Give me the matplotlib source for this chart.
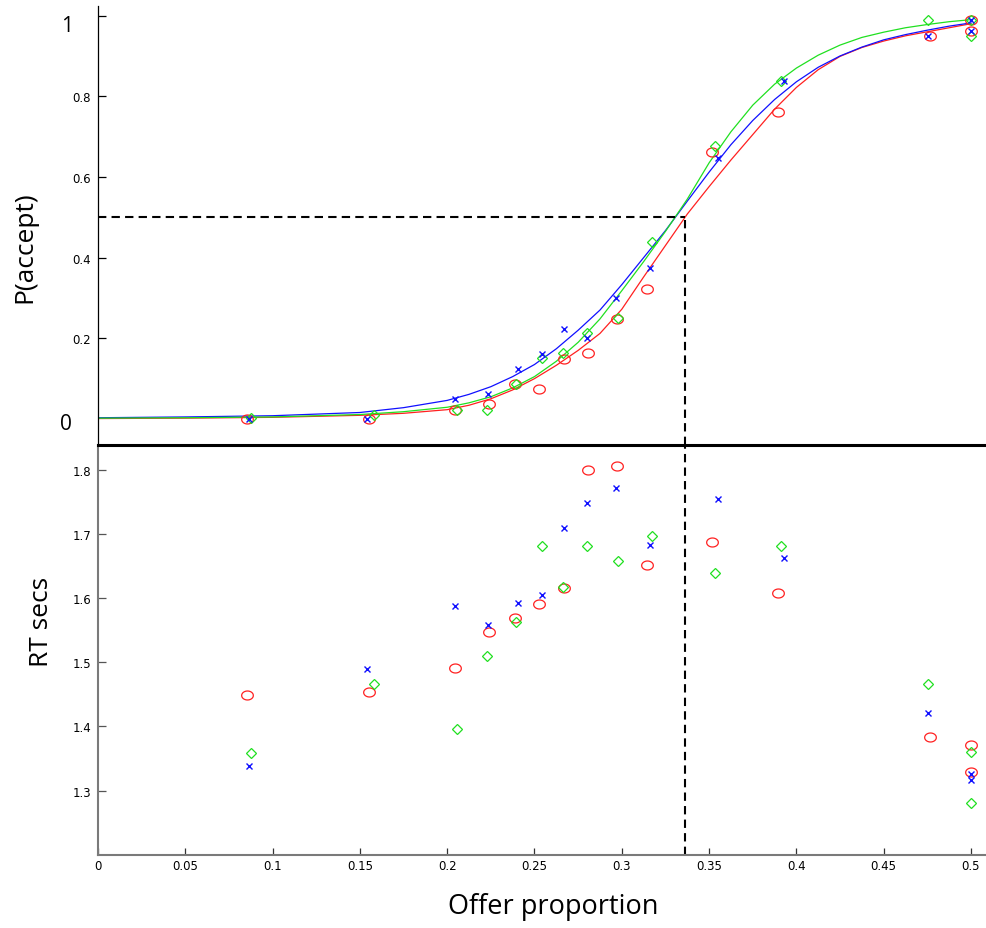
import numpy as np
import matplotlib
matplotlib.use("Agg")
import matplotlib.pyplot as plt

# offers (proportion of the pie) for each condition
x_red = [0.0855, 0.155, 0.2045, 0.224, 0.2386, 0.2524, 0.2667, 0.2805, 0.2973, 0.3146, 0.3515, 0.3893, 0.4763, 0.5, 0.5]
x_blue = [0.0863, 0.1543, 0.2043, 0.2232, 0.2404, 0.2541, 0.2667, 0.2803, 0.2965, 0.316, 0.3551, 0.3927, 0.4752, 0.5, 0.5]
x_green = [0.0876, 0.1579, 0.2056, 0.223, 0.2396, 0.2543, 0.2661, 0.2803, 0.2977, 0.3173, 0.3536, 0.3912, 0.4752, 0.5, 0.5]

# P(accept)
p_red = [0.0, 0.0, 0.023, 0.036, 0.086, 0.074, 0.149, 0.163, 0.248, 0.323, 0.661, 0.760, 0.950, 0.988, 0.963]
p_blue = [0.0, 0.0, 0.050, 0.061, 0.125, 0.162, 0.223, 0.200, 0.299, 0.375, 0.646, 0.838, 0.950, 0.988, 0.963]
p_green = [0.003, 0.010, 0.023, 0.023, 0.087, 0.150, 0.163, 0.212, 0.250, 0.438, 0.676, 0.838, 0.989, 0.990, 0.950]

# reaction times (s)
rt_red = [1.4485, 1.4537, 1.4906, 1.5468, 1.5686, 1.5905, 1.6154, 1.7995, 1.806, 1.6518, 1.6877, 1.6081, 1.384, 1.3716, 1.3284]
rt_blue = [1.339, 1.489, 1.5874, 1.558, 1.592, 1.6045, 1.709, 1.749, 1.772, 1.6836, 1.7554, 1.6633, 1.4215, 1.3264, 1.3159]
rt_green = [1.359, 1.466, 1.3966, 1.5098, 1.5629, 1.682, 1.6175, 1.682, 1.6587, 1.6977, 1.640, 1.682, 1.4668, 1.3607, 1.2805]

# fitted psychometric curves
fit_x = [0, 0.05, 0.1, 0.15, 0.175, 0.2, 0.2125, 0.225, 0.2375, 0.25, 0.2625, 0.275, 0.2875, 0.3, 0.3125,
         0.325, 0.3375, 0.35, 0.3625, 0.375, 0.3875, 0.4, 0.4125, 0.425, 0.4375, 0.45, 0.4625, 0.475, 0.4875, 0.5]
fit_blue = [0.003, 0.005, 0.008, 0.016, 0.028, 0.046, 0.061, 0.08, 0.105, 0.135, 0.174, 0.22, 0.27, 0.333, 0.40,
            0.467, 0.54, 0.612, 0.68, 0.74, 0.792, 0.836, 0.872, 0.9, 0.922, 0.94, 0.953, 0.964, 0.974, 0.982]
fit_green = [0.002, 0.003, 0.005, 0.011, 0.018, 0.029, 0.04, 0.055, 0.077, 0.105, 0.143, 0.19, 0.248, 0.318, 0.39,
             0.465, 0.545, 0.635, 0.712, 0.778, 0.83, 0.87, 0.902, 0.927, 0.946, 0.959, 0.97, 0.978, 0.985, 0.99]
fit_red = [0.001, 0.002, 0.004, 0.009, 0.014, 0.023, 0.034, 0.05, 0.072, 0.1, 0.133, 0.17, 0.212, 0.272, 0.352,
           0.43, 0.508, 0.576, 0.642, 0.705, 0.768, 0.822, 0.866, 0.899, 0.921, 0.937, 0.95, 0.96, 0.97, 0.98]

x_thresh = 0.336
xtick_vals = [0, 0.05, 0.1, 0.15, 0.2, 0.25, 0.3, 0.35, 0.4, 0.45, 0.5]
xtick_labels = ['0', '0.05', '0.1', '0.15', '0.2', '0.25', '0.3', '0.35', '0.4', '0.45', '0.5']

# ellipse marker like the stretched matlab circles
t = np.linspace(0, 2 * np.pi, 40)
ell = list(zip(np.cos(t), 0.77 * np.sin(t)))

fig = plt.figure(figsize=(9.86, 9.29), dpi=100)
ax2 = fig.add_axes([0.0994, 0.0789, 0.9006, 0.4414])
ax1 = fig.add_axes([0.0994, 0.5203, 0.9006, 0.4722])
ax1.set_zorder(3)

tickfont = dict(family='DejaVu Sans', size=8.5)
lab_font = 'Open Sans'

# top panel
ax1.plot(fit_x, fit_red, color='#ff2020', lw=0.9)
ax1.plot(fit_x, fit_blue, color='#1010ff', lw=0.9)
ax1.plot(fit_x, fit_green, color='#20e020', lw=0.9)
ax1.plot(x_red, p_red, ls='none', marker=ell, ms=8.4, mfc='none', mec='#ff2020', mew=0.9)
ax1.plot(x_green, p_green, ls='none', marker='D', ms=4.6, mfc='none', mec='#20e020', mew=0.9)
ax1.plot(x_blue, p_blue, ls='none', marker='x', ms=4.0, color='#1010ff', mew=1.0)
ax1.plot([0, x_thresh], [0.5, 0.5], color='black', lw=1.5, dashes=(4, 2.5))
ax1.plot([x_thresh, x_thresh], [-0.0637, 0.5], color='black', lw=1.5, dashes=(4, 2.5))

ax1.set_xlim(0, 0.5086)
ax1.set_ylim(-0.0637, 1.024)
ax1.spines['top'].set_visible(False)
ax1.spines['right'].set_visible(False)
ax1.spines['bottom'].set_linewidth(2.2)
ax1.spines['bottom'].set_color('black')
ax1.spines['left'].set_linewidth(0.9)
ax1.set_xticks([])
ax1.set_yticks([0.2, 0.4, 0.6, 0.8, 1.0])
ax1.set_yticklabels(['0.2', '0.4', '0.6', '0.8', ''], **tickfont)
ax1.tick_params(axis='y', direction='in', length=6, width=0.9, pad=5)
ax1.text(-0.0178, 0.976, '1', family=lab_font, fontsize=15, ha='center', va='center')
ax1.text(-0.0183, -0.012, '0', family=lab_font, fontsize=15, ha='center', va='center')

# bottom panel
ax2.plot(x_red, rt_red, ls='none', marker=ell, ms=8.4, mfc='none', mec='#ff2020', mew=0.9)
ax2.plot(x_green, rt_green, ls='none', marker='D', ms=5.0, mfc='none', mec='#20e020', mew=0.9)
ax2.plot(x_blue, rt_blue, ls='none', marker='x', ms=4.0, color='#1010ff', mew=1.0)
ax2.axvline(x_thresh, color='black', lw=1.5, dashes=(4, 2.5))

ax2.set_xlim(0, 0.5086)
ax2.set_ylim(1.2, 1.8396)
ax2.spines['top'].set_visible(False)
ax2.spines['right'].set_visible(False)
for s in ['left', 'bottom']:
    ax2.spines[s].set_color('#7a7a7a')
    ax2.spines[s].set_linewidth(1.5)
ax2.set_yticks([1.3, 1.4, 1.5, 1.6, 1.7, 1.8])
ax2.set_yticklabels(['1.3', '1.4', '1.5', '1.6', '1.7', '1.8'], **tickfont)
ax2.set_xticks(xtick_vals)
ax2.set_xticklabels(xtick_labels, **tickfont)
ax2.tick_params(axis='y', direction='in', length=6, width=0.9, pad=5, color='#555555')
ax2.tick_params(axis='x', direction='in', length=5, width=0.9, pad=3, color='#333333')

fig.text(25 / 986, 1 - 247 / 929, 'P(accept)', family=lab_font, fontsize=19, rotation=90, ha='center', va='center')
fig.text(41 / 986, 1 - 622 / 929, 'RT secs', family=lab_font, fontsize=19, rotation=90, ha='center', va='center')
fig.text(553 / 986, 1 - 907 / 929, 'Offer proportion', family=lab_font, fontsize=19.5, ha='center', va='center')

fig.savefig('out.png', dpi=100)
